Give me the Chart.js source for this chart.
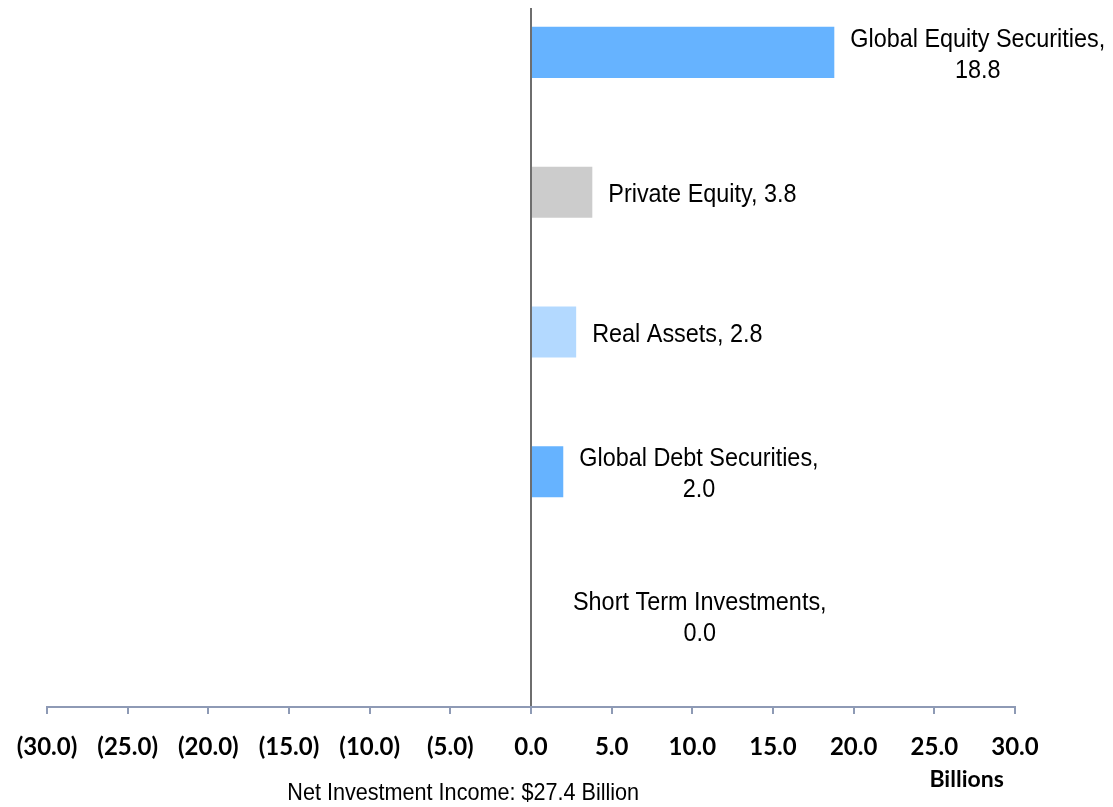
<!DOCTYPE html>
<html>
<head>
<meta charset="utf-8">
<script src="https://cdn.jsdelivr.net/npm/chart.js@4"></script>
<style>
html, body { margin: 0; padding: 0; background: #fff; }
</style>
</head>
<body>
<canvas id="income-chart" width="1113" height="807"></canvas>
<script>
// asset classes, top to bottom
const categories = ['Global Equity Securities', 'Private Equity', 'Real Assets', 'Global Debt Securities', 'Short Term Investments'];
// net investment income, billions
const values = [18.8, 3.8, 2.8, 2.0, 0.0];
// second (empty) series, Excel left a slot for it below every bar
const emptySeries = [null, null, null, null, null];
const barColors = ['#66b3ff', '#cccccc', '#b3d9ff', '#66b3ff', '#66b3ff'];
// which labels break the number onto a second line
const wrapNumber = [true, false, false, true, true];
const totalIncome = 27.4;
const unitText = 'Billions';

const plainFont = '"Liberation Sans", Arial, sans-serif';
const boldFont = 'Lato, "Open Sans", sans-serif';
const squash = 0.9; // no narrow font installed, so squeeze the regular one

function tickText(v) {
    if (v < 0) return '(' + Math.abs(v).toFixed(1) + ')';
    return v.toFixed(1);
}

function narrowText(c, text, x, y) {
    c.save();
    c.translate(x, y);
    c.scale(squash, 1);
    c.fillText(text, 0, 0);
    c.restore();
}

//"Name, value" labels to the right of each bar
const barLabels = {
    id: 'barLabels',
    afterDatasetsDraw(chart) {
        const c = chart.ctx;
        const meta = chart.getDatasetMeta(0);
        c.save();
        c.font = '26px ' + plainFont;
        c.fillStyle = '#000';
        c.textAlign = 'center';
        c.textBaseline = 'middle';
        meta.data.forEach((bar, i) => {
            const name = categories[i] + ',';
            const num = values[i].toFixed(1);
            const lines = wrapNumber[i] ? [name, num] : [name + ' ' + num];
            const w = Math.max(...lines.map(l => c.measureText(l).width)) * squash;
            // the zero bar's label sits a bit further out and lower
            const zero = values[i] === 0;
            const cx = Math.max(bar.x, bar.base) + (zero ? 42 : 16) + w / 2;
            const cy = bar.y + (zero ? 7 : 3);
            lines.forEach((l, k) => {
                narrowText(c, l, cx, cy + (k - (lines.length - 1) / 2) * 31);
            });
        });
        c.restore();
    }
};

//total under the axis and the unit at its right end
const footNote = {
    id: 'footNote',
    afterDraw(chart) {
        const c = chart.ctx;
        const area = chart.chartArea;
        const x = chart.scales.x;
        c.save();
        c.fillStyle = '#000';
        c.textAlign = 'center';
        c.textBaseline = 'middle';
        c.font = '24px ' + plainFont;
        narrowText(c, 'Net Investment Income: $' + totalIncome.toFixed(1) + ' Billion', area.left + (area.right - area.left) * 0.43, 793);
        c.font = 'bold 23px ' + boldFont;
        c.fillText(unitText, x.getPixelForValue(27), 780);
        c.restore();
    }
};

const axisColor = '#8e9ab5';
const ctx = document.querySelector('#income-chart').getContext('2d');
const chart = new Chart(ctx, {
    type: 'bar',
    data: {
        labels: categories,
        datasets: [{
            data: values,
            backgroundColor: barColors,
            barPercentage: 1,
            categoryPercentage: 0.73
        }, {
            data: emptySeries,
            backgroundColor: '#ffffff',
            barPercentage: 1,
            categoryPercentage: 0.73
        }]
    },
    options: {
        indexAxis: 'y',
        responsive: false,
        animation: false,
        devicePixelRatio: 1,
        layout: { padding: { left: 47, right: 98, top: 8, bottom: 0 } },
        plugins: {
            legend: { display: false },
            tooltip: { enabled: false }
        },
        scales: {
            x: {
                min: -30,
                max: 30,
                afterFit(scale) {
                    scale.height = 100;
                    // label overhang is covered by the layout padding already
                    scale.paddingLeft = 0;
                    scale.paddingRight = 0;
                },
                ticks: {
                    stepSize: 5,
                    callback: v => tickText(v),
                    color: '#000',
                    padding: 19,
                    maxRotation: 0,
                    font: { family: boldFont, size: 24, weight: 'bold' }
                },
                grid: {
                    color: c => (c.tick && c.tick.value === 0) ? '#6e6e6e' : 'rgba(0,0,0,0)',
                    lineWidth: 2,
                    drawTicks: true,
                    tickLength: 7,
                    tickColor: axisColor,
                    tickWidth: 2
                },
                border: { display: true, color: axisColor, width: 2 }
            },
            y: { display: false }
        }
    },
    plugins: [barLabels, footNote]
});
</script>
</body>
</html>
